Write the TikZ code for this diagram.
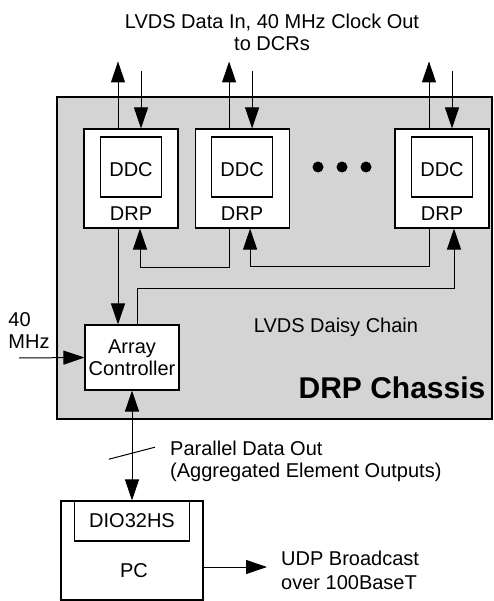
\documentclass[tikz,border=0pt]{standalone}
\usepackage{fontspec}
\setmainfont{Liberation Sans}
\usetikzlibrary{arrows.meta, positioning, calc}
\definecolor{chassisGray}{HTML}{D4D4D4}

\tikzset{
  lbl/.style={font=\fontsize{20}{22}\selectfont, inner sep=0pt},
  unit/.style={draw, fill=white, line width=1.1pt, inner sep=0pt, lbl},
  sig/.style={line width=1pt, -{Triangle[length=21pt,width=14pt]}},
  bus/.style={line width=1pt, {Triangle[length=21pt,width=14pt]}-{Triangle[length=21pt,width=14pt]}},
}

\begin{document}
\begin{tikzpicture}[x=1pt, y=-1pt]
\useasboundingbox (0,0) rectangle (493,601);

% chassis
\fill[chassisGray] (57,97) rectangle (492,419);
\draw[line width=1.4pt] (57,97) rectangle (492,419);
\node[font=\fontsize{30}{32}\selectfont\bfseries, inner sep=0pt, anchor=base] (chassis) at (392,398) {DRP Chassis};
\node[lbl, anchor=base] (chain) at (336,332) {LVDS Daisy Chain};

% DRP boards
\node[unit, minimum width=94pt, minimum height=99pt] (drp1) at (131,178.5) {};
\node[unit, minimum width=94pt, minimum height=99pt, right=16pt of drp1] (drp2) {};
\node[unit, minimum width=94pt, minimum height=99pt] (drp3) at (442,178.5) {};
\foreach \i in {1,2,3}{
  \node[unit, minimum width=61pt, minimum height=60pt, text height=20pt, below=8pt of drp\i.north] (ddc\i) {DDC};
  \node[lbl, anchor=base] (name\i) at ($(drp\i.south)+(0,-8)$) {DRP};
}
\foreach \x in {318,342,366}
  \fill (\x,167) circle (5.5pt);

% links to the DCRs
\node[lbl, align=center] (dcr) at (272,32) {LVDS Data In, 40 MHz Clock Out\\to DCRs};
\foreach \i in {1,2,3}{
  \coordinate (up\i) at ($(drp\i.north)+(-13,-67)$);
  \coordinate (dn\i) at ($(drp\i.north)+(10,-57)$);
  \draw[sig] (drp\i.north -| up\i) -- (up\i);
  \draw[sig] (dn\i) -- (dn\i |- drp\i.north);
}

% array controller
\node[unit, minimum width=94pt, minimum height=65pt, align=center] (ac) at (132,357.5) {Array\\Controller};
\node[lbl, align=left] (clkname) at (29,331) {40\\MHz};
\coordinate (clk) at (19,358);
\draw[sig] (clk) -- (ac.west);

% daisy chain
\draw[sig] (drp1.south -| up1) -- (ac.north -| up1);
\draw[sig] (drp2.south -| up2) -- ++(0,39) -| ($(drp1.south)+(9,0)$);
\draw[sig] (drp3.south -| up3) -- ++(0,38) -| ($(drp2.south)+(8,0)$);
\draw[sig] ($(ac.north)+(5,0)$) -- ++(0,-36) -| ($(drp3.south)+(12,0)$);

% PC
\node[unit, minimum width=142pt, minimum height=99pt] (pc) at (132,550.5) {};
\node[unit, minimum width=115pt, minimum height=40pt, below=0pt of pc.north] (dio) {DIO32HS};
\node[lbl, anchor=base] (pcname) at ($(pc.south)+(2,-23)$) {PC};
\draw[bus] (ac.south) -- (dio.north);
\coordinate (mid) at ($(ac.south)!0.57!(dio.north)$);
\draw[line width=1pt] ($(mid)+(-23,6)$) -- ($(mid)+(23,-6)$);
\node[lbl, align=left, anchor=west] (par) at (170,461) {Parallel Data Out\\(Aggregated Element Outputs)};

\coordinate (udp) at (267,567);
\draw[sig] (pc.east |- udp) -- (udp);
\node[lbl, align=left, anchor=west, font=\fontsize{20}{24}\selectfont] (udpname) at (281,570) {UDP Broadcast\\over 100BaseT};
\end{tikzpicture}
\end{document}
